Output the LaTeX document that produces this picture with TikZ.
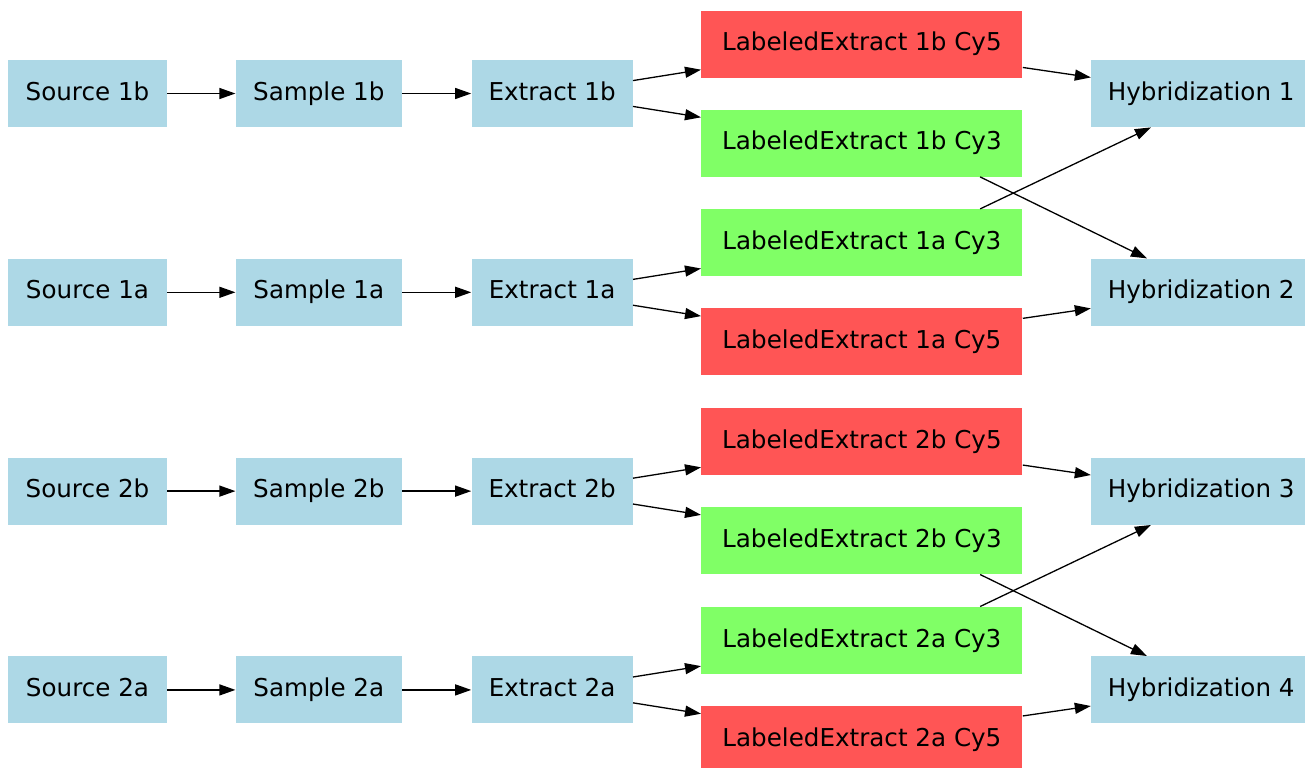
\documentclass[tikz,border=0pt]{standalone}
\usepackage{fontspec}
\setmainfont{DejaVu Sans}
\usepackage{xcolor}
\usetikzlibrary{arrows.meta,positioning}

\definecolor{nodeblue}{HTML}{ADD8E6}
\definecolor{cyfivered}{HTML}{FF5555}
\definecolor{cythreegreen}{HTML}{80FF66}

\begin{document}
\begin{tikzpicture}[
    node distance=34pt,
    box/.style={rectangle, inner sep=0pt, minimum height=33.5pt, text height=9pt, text depth=2.4pt,
                font=\fontsize{12.3pt}{15pt}\selectfont},
    source/.style={box, fill=nodeblue, minimum width=79.5pt},
    sample/.style={box, fill=nodeblue, minimum width=83pt},
    extract/.style={box, fill=nodeblue, minimum width=80.5pt},
    cyfive/.style={box, fill=cyfivered, minimum width=160.5pt},
    cythree/.style={box, fill=cythreegreen, minimum width=160.5pt},
    hyb/.style={box, fill=nodeblue, minimum width=110pt},
    link/.style={->, line width=0.65pt},
    >={Triangle[length=8pt,width=5.5pt]}
]

\useasboundingbox (0,0) rectangle (652.5pt,-383.5pt);

% Row 1b
\node[source] (source1b) at (43.75pt,-46.75pt) {Source 1b};
\node[sample, right=of source1b] (sample1b) {Sample 1b};
\node[extract, right=34.5pt of sample1b] (extract1b) {Extract 1b};
\node[cyfive, right=of extract1b, yshift=24.75pt] (le1bcy5) {LabeledExtract 1b Cy5};
\node[cythree, right=of extract1b, yshift=-24.75pt] (le1bcy3) {LabeledExtract 1b Cy3};
\node[hyb, right=of le1bcy5, yshift=-24.75pt] (hyb1) {Hybridization 1};

% Row 1a
\node[source, below=65.5pt of source1b] (source1a) {Source 1a};
\node[sample, right=of source1a] (sample1a) {Sample 1a};
\node[extract, right=34.5pt of sample1a] (extract1a) {Extract 1a};
\node[cythree, right=of extract1a, yshift=24.75pt] (le1acy3) {LabeledExtract 1a Cy3};
\node[cyfive, right=of extract1a, yshift=-24.75pt] (le1acy5) {LabeledExtract 1a Cy5};
\node[hyb, right=of le1acy3, yshift=-24.75pt] (hyb2) {Hybridization 2};

% Row 2b
\node[source, below=65.5pt of source1a] (source2b) {Source 2b};
\node[sample, right=of source2b] (sample2b) {Sample 2b};
\node[extract, right=34.5pt of sample2b] (extract2b) {Extract 2b};
\node[cyfive, right=of extract2b, yshift=24.75pt] (le2bcy5) {LabeledExtract 2b Cy5};
\node[cythree, right=of extract2b, yshift=-24.75pt] (le2bcy3) {LabeledExtract 2b Cy3};
\node[hyb, right=of le2bcy5, yshift=-24.75pt] (hyb3) {Hybridization 3};

% Row 2a
\node[source, below=65.5pt of source2b] (source2a) {Source 2a};
\node[sample, right=of source2a] (sample2a) {Sample 2a};
\node[extract, right=34.5pt of sample2a] (extract2a) {Extract 2a};
\node[cythree, right=of extract2a, yshift=24.75pt] (le2acy3) {LabeledExtract 2a Cy3};
\node[cyfive, right=of extract2a, yshift=-24.75pt] (le2acy5) {LabeledExtract 2a Cy5};
\node[hyb, right=of le2acy3, yshift=-24.75pt] (hyb4) {Hybridization 4};

% Source -> Sample -> Extract -> labeled extracts
\draw[link] (source1b) -- (sample1b);
\draw[link] (sample1b) -- (extract1b);
\draw[link] (extract1b) -- (le1bcy5);
\draw[link] (extract1b) -- (le1bcy3);
\draw[link] (source1a) -- (sample1a);
\draw[link] (sample1a) -- (extract1a);
\draw[link] (extract1a) -- (le1acy3);
\draw[link] (extract1a) -- (le1acy5);
\draw[link] (source2b) -- (sample2b);
\draw[link] (sample2b) -- (extract2b);
\draw[link] (extract2b) -- (le2bcy5);
\draw[link] (extract2b) -- (le2bcy3);
\draw[link] (source2a) -- (sample2a);
\draw[link] (sample2a) -- (extract2a);
\draw[link] (extract2a) -- (le2acy3);
\draw[link] (extract2a) -- (le2acy5);

% Hybridizations (Cy3 crosses over)
\draw[link] (le1bcy5) -- (hyb1);
\draw[link] (le1acy3.16) -- (hyb1.-146);
\draw[link] (le1bcy3.-16) -- (hyb2.148);
\draw[link] (le1acy5) -- (hyb2);
\draw[link] (le2bcy5) -- (hyb3);
\draw[link] (le2acy3.16) -- (hyb3.-146);
\draw[link] (le2bcy3.-16) -- (hyb4.148);
\draw[link] (le2acy5) -- (hyb4);

\end{tikzpicture}
\end{document}
